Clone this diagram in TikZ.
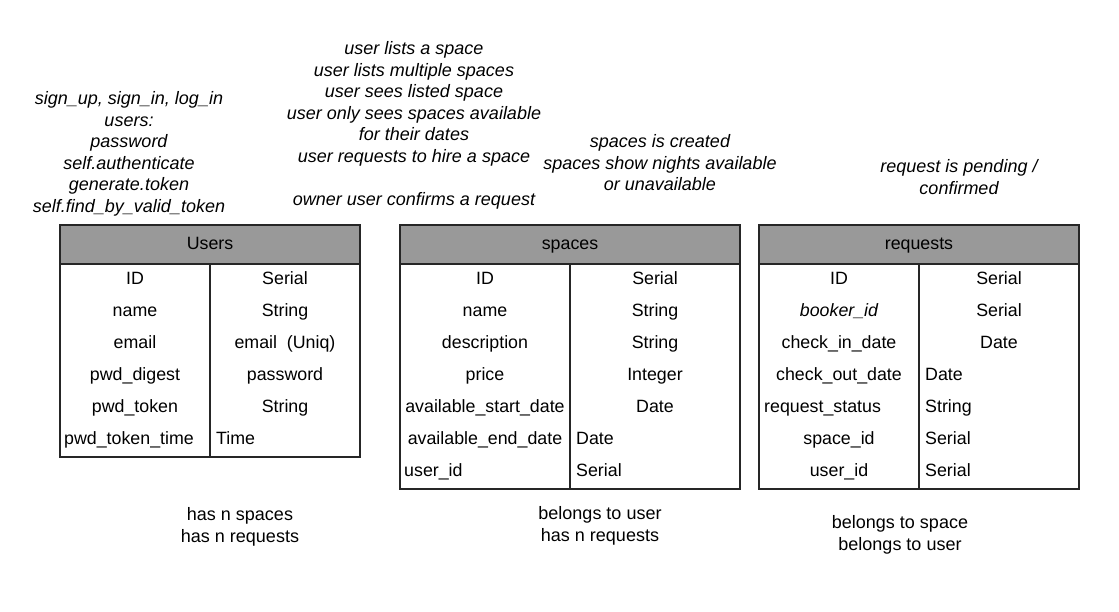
\documentclass[tikz,border=0pt]{standalone}
\usepackage{fontspec}
\setmainfont{Liberation Sans}
\tikzset{tbl/.style={draw=black!85, line width=1.5pt}}
\tikzset{head/.style={tbl, fill=black!40}}
\tikzset{cell/.style={anchor=base, inner sep=0pt, font=\fontsize{17.8}{21.5}\selectfont}}
\tikzset{lcell/.style={cell, anchor=base west}}
\tikzset{note/.style={anchor=north, inner sep=0pt, align=center, font=\fontsize{18}{21.5}\selectfont\itshape}}
\tikzset{rel/.style={anchor=north, inner sep=0pt, align=center, font=\fontsize{18}{22}\selectfont}}

\begin{document}
\begin{tikzpicture}[x=1pt,y=-1pt]
  \useasboundingbox (0,0) rectangle (1119,611);
  % users table
  \draw[head] (60,225) rectangle (360,264);
  \draw[tbl] (60,264) rectangle (360,457);
  \draw[tbl] (210,264) -- (210,457);
  \node[cell] (users) at (210,249) {Users};
  \node[cell] (u-id) at (135,284) {ID};
  \node[cell] (u-id-t) at (285,284) {Serial};
  \node[cell] (u-name) at (135,316) {name};
  \node[cell] (u-name-t) at (285,316) {String};
  \node[cell] (u-email) at (135,348) {email};
  \node[cell] (u-email-t) at (285,348) {email~ (Uniq)};
  \node[cell] (u-digest) at (135,380) {pwd\_digest};
  \node[cell] (u-digest-t) at (285,380) {password};
  \node[cell] (u-token) at (135,412) {pwd\_token};
  \node[cell] (u-token-t) at (285,412) {String};
  \node[lcell] (u-time) at (64,444) {pwd\_token\_time};
  \node[lcell] (u-time-t) at (216,444) {Time};
  % spaces table
  \draw[head] (400,225) rectangle (740,264);
  \draw[tbl] (400,264) rectangle (740,489);
  \draw[tbl] (570,264) -- (570,489);
  \node[cell] (spaces) at (570,249) {spaces};
  \node[cell] (s-id) at (485,284) {ID};
  \node[cell] (s-id-t) at (655,284) {Serial};
  \node[cell] (s-name) at (485,316) {name};
  \node[cell] (s-name-t) at (655,316) {String};
  \node[cell] (s-desc) at (485,348) {description};
  \node[cell] (s-desc-t) at (655,348) {String};
  \node[cell] (s-price) at (485,380) {price};
  \node[cell] (s-price-t) at (655,380) {Integer};
  \node[cell] (s-start) at (485,412) {available\_start\_date};
  \node[cell] (s-start-t) at (655,412) {Date};
  \node[cell] (s-end) at (485,444) {available\_end\_date};
  \node[lcell] (s-end-t) at (576,444) {Date};
  \node[lcell] (s-user) at (404,476) {user\_id};
  \node[lcell] (s-user-t) at (576,476) {Serial};
  % requests table
  \draw[head] (759,225) rectangle (1079,264);
  \draw[tbl] (759,264) rectangle (1079,489);
  \draw[tbl] (919,264) -- (919,489);
  \node[cell] (requests) at (919,249) {requests};
  \node[cell] (r-id) at (839,284) {ID};
  \node[cell] (r-id-t) at (999,284) {Serial};
  \node[cell] (r-booker) at (839,316) {\itshape booker\_id};
  \node[cell] (r-booker-t) at (999,316) {Serial};
  \node[cell] (r-in) at (839,348) {check\_in\_date};
  \node[cell] (r-in-t) at (999,348) {Date};
  \node[cell] (r-out) at (839,380) {check\_out\_date};
  \node[lcell] (r-out-t) at (925,380) {Date};
  \node[lcell] (r-status) at (764,412) {request\_status};
  \node[lcell] (r-status-t) at (925,412) {String};
  \node[cell] (r-space) at (839,444) {space\_id};
  \node[lcell] (r-space-t) at (925,444) {Serial};
  \node[cell] (r-user) at (839,476) {user\_id};
  \node[lcell] (r-user-t) at (925,476) {Serial};
  % notes above
  \node[note] (user-notes) at (129,91.5) {sign\_up, sign\_in, log\_in\\users:\\password\\self.authenticate\\generate.token\\self.find\_by\_valid\_token};
  \node[note] (space-notes) at (414,41.5) {user lists a space\\user lists multiple spaces\\user sees listed space\\user only sees spaces available\\for their dates\\user requests to hire a space\\[21.5pt]owner user confirms a request};
  \node[note] (spaces-notes) at (660,134.5) {spaces is created\\spaces show nights available\\or unavailable};
  \node[note] (request-notes) at (959,159.5) {request is pending /\\confirmed};
  % relations below
  \node[rel] (user-rels) at (240,507.5) {has n spaces\\has n requests};
  \node[rel] (space-rels) at (600,506.5) {belongs to user\\has n requests};
  \node[rel] (request-rels) at (900,515.5) {belongs to space\\belongs to user};
\end{tikzpicture}
\end{document}
